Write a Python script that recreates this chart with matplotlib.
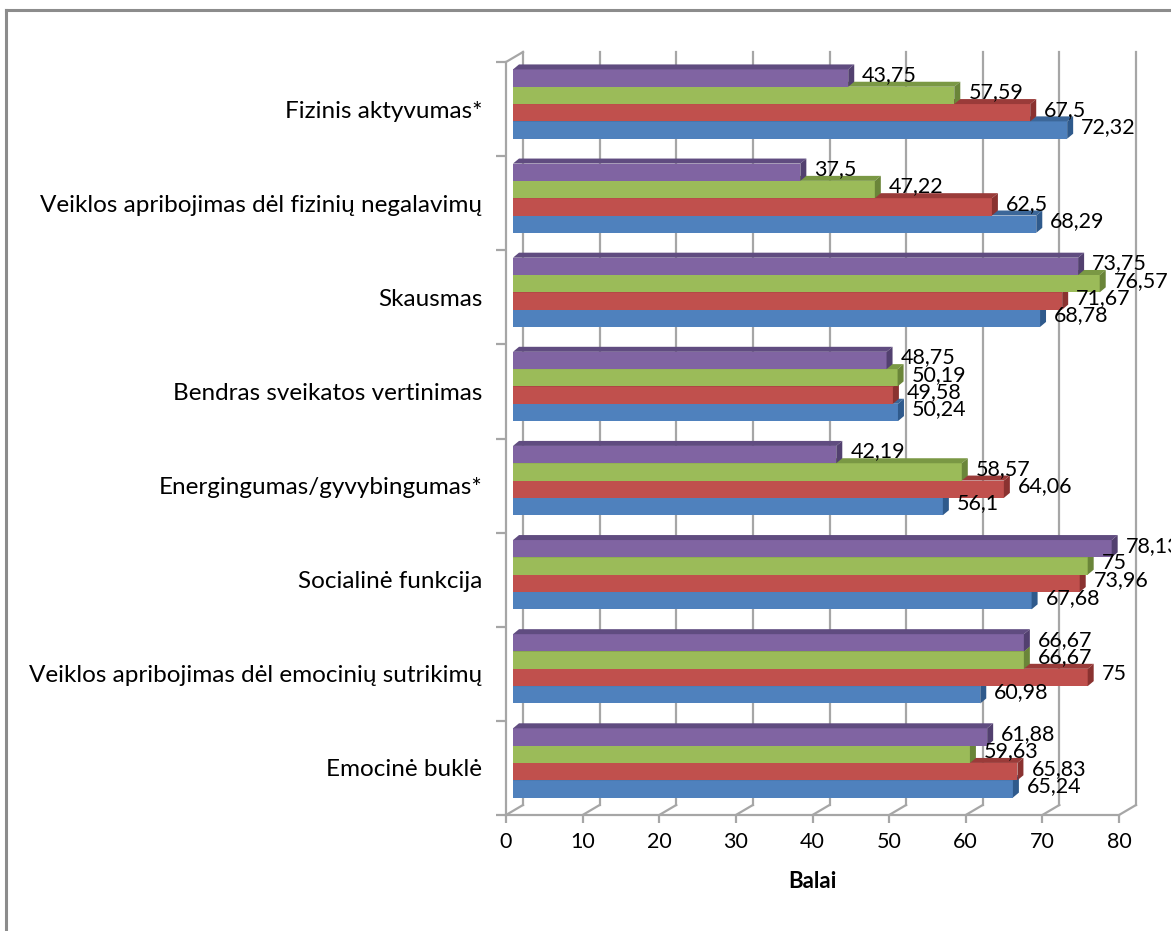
import matplotlib
matplotlib.use("Agg")
import matplotlib.pyplot as plt
from matplotlib.transforms import ScaledTranslation
from matplotlib.patches import Polygon
from matplotlib.lines import Line2D

plt.rcParams['font.family'] = ['Lato', 'DejaVu Sans']

categories = [
    "Fizinis aktyvumas*",
    "Veiklos apribojimas dėl fizinių negalavimų",
    "Skausmas",
    "Bendras sveikatos vertinimas",
    "Energingumas/gyvybingumas*",
    "Socialinė funkcija",
    "Veiklos apribojimas dėl emocinių sutrikimų",
    "Emocinė buklė",
]
# series listed bottom -> top within each group
series_blue = [72.32, 68.29, 68.78, 50.24, 56.1, 67.68, 60.98, 65.24]
series_red = [67.5, 62.5, 71.67, 49.58, 64.06, 73.96, 75, 65.83]
series_green = [57.59, 47.22, 76.57, 50.19, 58.57, 75, 66.67, 59.63]
series_purple = [43.75, 37.5, 73.75, 48.75, 42.19, 78.13, 66.67, 61.88]
x_ticks = [0, 10, 20, 30, 40, 50, 60, 70, 80]
x_label = "Balai"

series = [series_blue, series_red, series_green, series_purple]
front_colors = ["#4F81BD", "#C0504D", "#9BBB59", "#8064A2"]
top_colors = ["#3C6799", "#9A3B39", "#7A9844", "#604C80"]
side_colors = ["#2F5A8C", "#8A3230", "#6A8539", "#52406F"]

W, H = 1171, 931
fig = plt.figure(figsize=(W / 100, H / 100), dpi=100)
x0, x1 = 506, 1119
ytop, ybot = 62, 815
ax = fig.add_axes([x0 / W, 1 - ybot / H, (x1 - x0) / W, (ybot - ytop) / H])
ax.set_xlim(0, 80)
ax.set_ylim(len(categories) - 0.5, -0.5)

ux = 80 / (x1 - x0)          # data units per px (x)
uy = len(categories) / (ybot - ytop)  # data units per px (y)

grid_c = "#A6A6A6"
# back wall depth
bdx, bdy = 17 * ux, -10 * uy
for v in x_ticks:
    ax.plot([v + bdx, v + bdx], [-0.5 + bdy, len(categories) - 0.5 + bdy],
            color=grid_c, lw=1.6, zorder=1, clip_on=False)
    ax.plot([v, v + bdx], [len(categories) - 0.5, len(categories) - 0.5 + bdy],
            color=grid_c, lw=1.6, zorder=1, clip_on=False)
ax.plot([0, bdx], [-0.5, -0.5 + bdy], color=grid_c, lw=1.6, zorder=1, clip_on=False)

# bars (in a plane slightly behind the front axis)
bar_off = ax.transData + ScaledTranslation(7 / 100, 5 / 100, fig.dpi_scale_trans)
h = 0.184
ddx, ddy = 6 * ux, -5 * uy
for s_idx, vals in enumerate(series):
    offset = (1.5 - s_idx) * h
    for i, v in enumerate(vals):
        yc = i + offset
        yt, yb = yc - h / 2, yc + h / 2
        ax.barh(yc, v, height=h, color=front_colors[s_idx], transform=bar_off,
                zorder=3 + s_idx, clip_on=False, linewidth=0)
        top = Polygon([(0, yt), (v, yt), (v + ddx, yt + ddy), (ddx, yt + ddy)],
                      closed=True, facecolor=top_colors[s_idx], edgecolor='none',
                      transform=bar_off, zorder=3 + s_idx, clip_on=False)
        ax.add_patch(top)
        side = Polygon([(v, yt), (v + ddx, yt + ddy), (v + ddx, yb + ddy), (v, yb)],
                       closed=True, facecolor=side_colors[s_idx], edgecolor='none',
                       transform=bar_off, zorder=3 + s_idx, clip_on=False)
        ax.add_patch(side)
        lab = f"{v:g}".replace('.', ',')
        ax.text(v + 14 * ux, yc - 3 * uy, lab, transform=bar_off, ha='left', va='center',
                fontsize=15.5, color="#000000", zorder=10, clip_on=False)

# axes styling
for sp in ['top', 'right']:
    ax.spines[sp].set_visible(False)
for sp in ['left', 'bottom']:
    ax.spines[sp].set_color(grid_c)
    ax.spines[sp].set_linewidth(1.6)
ax.set_xticks(x_ticks)
ax.set_xticklabels([str(t) for t in x_ticks], fontsize=15.5)
ax.tick_params(axis='x', length=6, width=1.6, color=grid_c, pad=6)
ax.set_yticks(range(len(categories)))
ax.set_yticklabels(categories, fontsize=17.5)
ax.tick_params(axis='y', which='major', length=0, pad=17)
ax.set_yticks([i - 0.5 for i in range(len(categories) + 1)], minor=True)
ax.tick_params(axis='y', which='minor', length=7, width=1.6, color=grid_c)
ax.set_xlabel(x_label, fontsize=16, fontweight='bold', labelpad=14)
ax.set_facecolor('none')

# outer frame (left and top visible)
fig.add_artist(Line2D([6 / W, 6 / W], [0, 1 - 10 / H], color="#8C8C8C", lw=2.2))
fig.add_artist(Line2D([6 / W, 1], [1 - 10 / H, 1 - 10 / H], color="#8C8C8C", lw=2.2))

fig.savefig("out.png", dpi=100)
